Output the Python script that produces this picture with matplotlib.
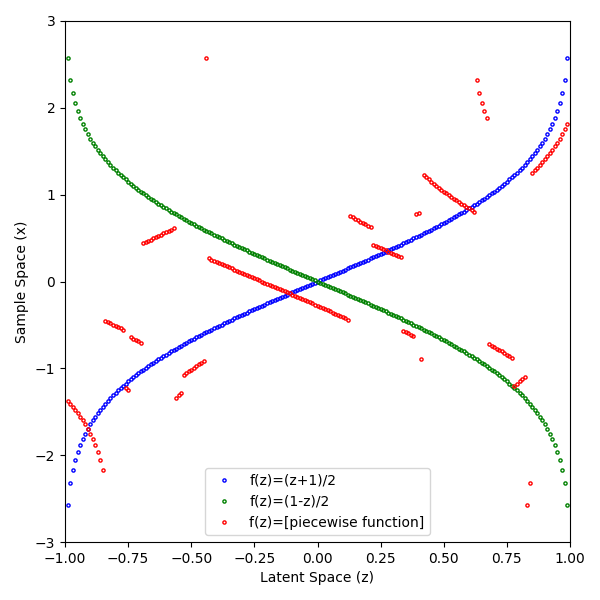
import matplotlib
matplotlib.use("Agg")
import matplotlib.pyplot as plt

# Latent-space sample positions
z = [
    -0.99, -0.98, -0.97, -0.96, -0.95, -0.94, -0.93, -0.92, -0.91, -0.90,
    -0.89, -0.88, -0.87, -0.86, -0.85, -0.84, -0.83, -0.82, -0.81, -0.80,
    -0.79, -0.78, -0.77, -0.76, -0.75, -0.74, -0.73, -0.72, -0.71, -0.70,
    -0.69, -0.68, -0.67, -0.66, -0.65, -0.64, -0.63, -0.62, -0.61, -0.60,
    -0.59, -0.58, -0.57, -0.56, -0.55, -0.54, -0.53, -0.52, -0.51, -0.50,
    -0.49, -0.48, -0.47, -0.46, -0.45, -0.44, -0.43, -0.42, -0.41, -0.40,
    -0.39, -0.38, -0.37, -0.36, -0.35, -0.34, -0.33, -0.32, -0.31, -0.30,
    -0.29, -0.28, -0.27, -0.26, -0.25, -0.24, -0.23, -0.22, -0.21, -0.20,
    -0.19, -0.18, -0.17, -0.16, -0.15, -0.14, -0.13, -0.12, -0.11, -0.10,
    -0.09, -0.08, -0.07, -0.06, -0.05, -0.04, -0.03, -0.02, -0.01, 0.00,
    0.01, 0.02, 0.03, 0.04, 0.05, 0.06, 0.07, 0.08, 0.09, 0.10,
    0.11, 0.12, 0.13, 0.14, 0.15, 0.16, 0.17, 0.18, 0.19, 0.20,
    0.21, 0.22, 0.23, 0.24, 0.25, 0.26, 0.27, 0.28, 0.29, 0.30,
    0.31, 0.32, 0.33, 0.34, 0.35, 0.36, 0.37, 0.38, 0.39, 0.40,
    0.41, 0.42, 0.43, 0.44, 0.45, 0.46, 0.47, 0.48, 0.49, 0.50,
    0.51, 0.52, 0.53, 0.54, 0.55, 0.56, 0.57, 0.58, 0.59, 0.60,
    0.61, 0.62, 0.63, 0.64, 0.65, 0.66, 0.67, 0.68, 0.69, 0.70,
    0.71, 0.72, 0.73, 0.74, 0.75, 0.76, 0.77, 0.78, 0.79, 0.80,
    0.81, 0.82, 0.83, 0.84, 0.85, 0.86, 0.87, 0.88, 0.89, 0.90,
    0.91, 0.92, 0.93, 0.94, 0.95, 0.96, 0.97, 0.98, 0.99,
]

# Sample-space values for f(z)=(z+1)/2
x_blue = [
    -2.576, -2.326, -2.170, -2.054, -1.960, -1.881, -1.812, -1.751, -1.695, -1.645,
    -1.598, -1.555, -1.514, -1.476, -1.440, -1.405, -1.372, -1.341, -1.311, -1.282,
    -1.254, -1.227, -1.200, -1.175, -1.150, -1.126, -1.103, -1.080, -1.058, -1.036,
    -1.015, -0.994, -0.974, -0.954, -0.935, -0.915, -0.896, -0.878, -0.860, -0.842,
    -0.824, -0.806, -0.789, -0.772, -0.755, -0.739, -0.722, -0.706, -0.690, -0.674,
    -0.659, -0.643, -0.628, -0.613, -0.598, -0.583, -0.568, -0.553, -0.539, -0.524,
    -0.510, -0.496, -0.482, -0.468, -0.454, -0.440, -0.426, -0.412, -0.399, -0.385,
    -0.372, -0.358, -0.345, -0.332, -0.319, -0.306, -0.292, -0.279, -0.266, -0.253,
    -0.240, -0.228, -0.215, -0.202, -0.189, -0.176, -0.164, -0.151, -0.138, -0.126,
    -0.113, -0.100, -0.088, -0.075, -0.063, -0.050, -0.038, -0.025, -0.013, 0.000,
    0.013, 0.025, 0.038, 0.050, 0.063, 0.075, 0.088, 0.100, 0.113, 0.126,
    0.138, 0.151, 0.164, 0.176, 0.189, 0.202, 0.215, 0.228, 0.240, 0.253,
    0.266, 0.279, 0.292, 0.306, 0.319, 0.332, 0.345, 0.358, 0.372, 0.385,
    0.399, 0.412, 0.426, 0.440, 0.454, 0.468, 0.482, 0.496, 0.510, 0.524,
    0.539, 0.553, 0.568, 0.583, 0.598, 0.613, 0.628, 0.643, 0.659, 0.674,
    0.690, 0.706, 0.722, 0.739, 0.755, 0.772, 0.789, 0.806, 0.824, 0.842,
    0.860, 0.878, 0.896, 0.915, 0.935, 0.954, 0.974, 0.994, 1.015, 1.036,
    1.058, 1.080, 1.103, 1.126, 1.150, 1.175, 1.200, 1.227, 1.254, 1.282,
    1.311, 1.341, 1.372, 1.405, 1.440, 1.476, 1.514, 1.555, 1.598, 1.645,
    1.695, 1.751, 1.812, 1.881, 1.960, 2.054, 2.170, 2.326, 2.576,
]

# Sample-space values for f(z)=(1-z)/2
x_green = [
    2.576, 2.326, 2.170, 2.054, 1.960, 1.881, 1.812, 1.751, 1.695, 1.645,
    1.598, 1.555, 1.514, 1.476, 1.440, 1.405, 1.372, 1.341, 1.311, 1.282,
    1.254, 1.227, 1.200, 1.175, 1.150, 1.126, 1.103, 1.080, 1.058, 1.036,
    1.015, 0.994, 0.974, 0.954, 0.935, 0.915, 0.896, 0.878, 0.860, 0.842,
    0.824, 0.806, 0.789, 0.772, 0.755, 0.739, 0.722, 0.706, 0.690, 0.674,
    0.659, 0.643, 0.628, 0.613, 0.598, 0.583, 0.568, 0.553, 0.539, 0.524,
    0.510, 0.496, 0.482, 0.468, 0.454, 0.440, 0.426, 0.412, 0.399, 0.385,
    0.372, 0.358, 0.345, 0.332, 0.319, 0.306, 0.292, 0.279, 0.266, 0.253,
    0.240, 0.228, 0.215, 0.202, 0.189, 0.176, 0.164, 0.151, 0.138, 0.126,
    0.113, 0.100, 0.088, 0.075, 0.063, 0.050, 0.038, 0.025, 0.013, 0.000,
    -0.013, -0.025, -0.038, -0.050, -0.063, -0.075, -0.088, -0.100, -0.113, -0.126,
    -0.138, -0.151, -0.164, -0.176, -0.189, -0.202, -0.215, -0.228, -0.240, -0.253,
    -0.266, -0.279, -0.292, -0.306, -0.319, -0.332, -0.345, -0.358, -0.372, -0.385,
    -0.399, -0.412, -0.426, -0.440, -0.454, -0.468, -0.482, -0.496, -0.510, -0.524,
    -0.539, -0.553, -0.568, -0.583, -0.598, -0.613, -0.628, -0.643, -0.659, -0.674,
    -0.690, -0.706, -0.722, -0.739, -0.755, -0.772, -0.789, -0.806, -0.824, -0.842,
    -0.860, -0.878, -0.896, -0.915, -0.935, -0.954, -0.974, -0.994, -1.015, -1.036,
    -1.058, -1.080, -1.103, -1.126, -1.150, -1.175, -1.200, -1.227, -1.254, -1.282,
    -1.311, -1.341, -1.372, -1.405, -1.440, -1.476, -1.514, -1.555, -1.598, -1.645,
    -1.695, -1.751, -1.812, -1.881, -1.960, -2.054, -2.170, -2.326, -2.576,
]

# Sample-space values for the piecewise function
x_red = [
    # z -0.99 .. -0.85
    -1.372, -1.405, -1.440, -1.476, -1.514, -1.555, -1.598, -1.645, -1.695, -1.751,
    -1.812, -1.881, -1.960, -2.054, -2.170,
    # z -0.84 .. -0.77
    -0.454, -0.468, -0.482, -0.496, -0.510, -0.524, -0.539, -0.553,
    # z -0.76 .. -0.75
    -1.227, -1.254,
    # z -0.74 .. -0.70
    -0.643, -0.659, -0.674, -0.690, -0.706,
    # z -0.69 .. -0.57
    0.440, 0.454, 0.468, 0.482, 0.496, 0.510, 0.524, 0.539, 0.553, 0.568,
    0.583, 0.598, 0.613,
    # z -0.56 .. -0.54
    -1.341, -1.311, -1.282,
    # z -0.53 .. -0.45
    -1.080, -1.058, -1.036, -1.015, -0.994, -0.974, -0.954, -0.935, -0.915,
    # z -0.44
    2.576,
    # z -0.43 .. 0.12
    0.266, 0.253, 0.240, 0.228, 0.215, 0.202, 0.189, 0.176, 0.164, 0.151,
    0.138, 0.126, 0.113, 0.100, 0.088, 0.075, 0.063, 0.050, 0.038, 0.025,
    0.013, 0.000, -0.013, -0.025, -0.038, -0.050, -0.063, -0.075, -0.088, -0.100,
    -0.113, -0.126, -0.138, -0.151, -0.164, -0.176, -0.189, -0.202, -0.215, -0.228,
    -0.240, -0.253, -0.266, -0.279, -0.292, -0.306, -0.319, -0.332, -0.345, -0.358,
    -0.372, -0.385, -0.399, -0.412, -0.426, -0.440,
    # z 0.13 .. 0.21
    0.755, 0.739, 0.722, 0.706, 0.690, 0.674, 0.659, 0.643, 0.628,
    # z 0.22 .. 0.33
    0.426, 0.412, 0.399, 0.385, 0.372, 0.358, 0.345, 0.332, 0.319, 0.306,
    0.292, 0.279,
    # z 0.34 .. 0.38
    -0.568, -0.583, -0.598, -0.613, -0.628,
    # z 0.39 .. 0.40
    0.772, 0.789,
    # z 0.41
    -0.896,
    # z 0.42 .. 0.62
    1.227, 1.200, 1.175, 1.150, 1.126, 1.103, 1.080, 1.058, 1.036, 1.015,
    0.994, 0.974, 0.954, 0.935, 0.915, 0.896, 0.878, 0.860, 0.842, 0.824,
    0.806,
    # z 0.63 .. 0.67
    2.326, 2.170, 2.054, 1.960, 1.881,
    # z 0.68 .. 0.77
    -0.722, -0.739, -0.755, -0.772, -0.789, -0.806, -0.824, -0.842, -0.860, -0.878,
    # z 0.78 .. 0.82
    -1.200, -1.175, -1.150, -1.126, -1.103,
    # z 0.83 .. 0.84
    -2.576, -2.326,
    # z 0.85 .. 0.99
    1.254, 1.282, 1.311, 1.341, 1.372, 1.405, 1.440, 1.476, 1.514, 1.555,
    1.598, 1.645, 1.695, 1.751, 1.812,
]

labels = ["f(z)=(z+1)/2", "f(z)=(1-z)/2", "f(z)=[piecewise function]"]
colors = ["blue", "green", "red"]

fig = plt.figure(figsize=(6, 6), dpi=100)
ax = fig.add_axes([65 / 600, 58 / 600, 505 / 600, 521 / 600])

for xs, lab, col in zip([x_blue, x_green, x_red], labels, colors):
    ax.plot(z, xs, linestyle="none", marker="o", markersize=2.3,
            markerfacecolor="none", markeredgecolor=col, markeredgewidth=1.0,
            label=lab)

ax.set_xlim(-1, 1)
ax.set_ylim(-3, 3)
ax.set_xticks([-1.0, -0.75, -0.5, -0.25, 0.0, 0.25, 0.5, 0.75, 1.0])
ax.set_xticklabels(["−1.00", "−0.75", "−0.50", "−0.25", "0.00", "0.25", "0.50", "0.75", "1.00"])
ax.set_yticks([-3, -2, -1, 0, 1, 2, 3])
ax.set_xlabel("Latent Space (z)")
ax.set_ylabel("Sample Space (x)")
ax.legend(loc="lower center")

fig.savefig("out.png", dpi=100)
